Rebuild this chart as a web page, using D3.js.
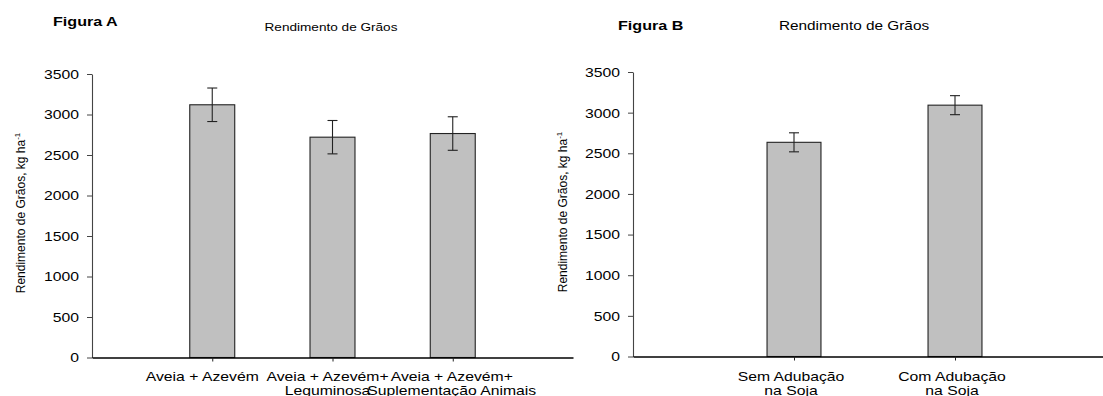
<!DOCTYPE html>
<html>
<head>
<meta charset="utf-8">
<script src="https://cdn.jsdelivr.net/npm/d3@7/dist/d3.min.js"></script>
<style>
  html, body { margin: 0; padding: 0; background: #fff; }
  svg { display: block; font-family: "Liberation Sans", Arial, sans-serif; }
</style>
</head>
<body>
<svg id="chart" width="1103" height="396"></svg>
<script>
// ---- data ----
const categoriesA = [["Aveia + Azevém"], ["Aveia + Azevém+", "Leguminosa"], ["Aveia + Azevém+", "Suplementação Animais"]];
const valuesA = [3120, 2720, 2765];
const errorsA = [207, 206, 207];

const categoriesB = [["Sem Adubação", "na Soja"], ["Com Adubação", "na Soja"]];
const valuesB = [2635, 3092];
const errorsB = [117, 117];

const yTicks = [0, 500, 1000, 1500, 2000, 2500, 3000, 3500];
const panelLabels = ["Figura A", "Figura B"];
const chartTitle = "Rendimento de Grãos";
const yTitle = "Rendimento de Grãos, kg ha";
const yTitleSup = "-1";

// ---- drawing ----
const SX = 1.26; // horizontal stretch of the original text
const svg = d3.select("#chart");

function addText(g, x, y, str, size, anchor, weight) {
  return g.append("text")
    .attr("transform", `translate(${x},${y}) scale(${SX},1)`)
    .attr("text-anchor", anchor || "start")
    .attr("font-size", size)
    .attr("font-weight", weight || "normal")
    .attr("fill", "#000")
    .text(str);
}

function drawPanel(cfg) {
  const g = svg.append("g");
  const x = d3.scaleLinear().domain([0, cfg.cats.length + 1]).range(cfg.xRange);
  const y = d3.scaleLinear().domain([0, 3500]).range(cfg.yRange);
  const unit = x(1) - x(0);
  const bw = unit * cfg.barFrac;

  // y axis
  const ya = g.append("g")
    .attr("transform", `translate(${cfg.xRange[0]},0)`)
    .call(d3.axisLeft(y).tickValues(yTicks).tickFormat(d3.format("d"))
      .tickSize(5).tickSizeOuter(0).tickPadding(8));
  ya.select(".domain").attr("stroke", "#444").attr("stroke-width", 1.1);
  ya.selectAll(".tick line").attr("stroke", "#444");
  ya.selectAll(".tick text").attr("font-size", 12.5).attr("fill", "#000")
    .attr("font-family", "Liberation Sans, Arial, sans-serif").attr("dy", "0.35em");
  ya.selectAll(".tick text").each(function () {
    const t = d3.select(this);
    const xx = +t.attr("x");
    t.attr("x", 0).attr("transform", `translate(${xx},0) scale(${SX},1)`);
  });

  // bars
  const idx = d3.range(cfg.vals.length);
  g.selectAll("rect.bar").data(idx).join("rect")
    .attr("class", "bar")
    .attr("x", i => x(i + 1) - bw / 2)
    .attr("y", i => y(cfg.vals[i]))
    .attr("width", bw)
    .attr("height", i => y(0) - y(cfg.vals[i]))
    .attr("fill", "#c0c0c0")
    .attr("stroke", "#222")
    .attr("stroke-width", 1.1);

  // error bars
  const eg = g.selectAll("g.err").data(idx).join("g").attr("class", "err")
    .attr("stroke", "#222").attr("stroke-width", 1.1);
  eg.append("line")
    .attr("x1", i => x(i + 1)).attr("x2", i => x(i + 1))
    .attr("y1", i => y(cfg.vals[i] + cfg.errs[i])).attr("y2", i => y(cfg.vals[i] - cfg.errs[i]));
  eg.append("line")
    .attr("x1", i => x(i + 1) - 5).attr("x2", i => x(i + 1) + 5)
    .attr("y1", i => y(cfg.vals[i] + cfg.errs[i])).attr("y2", i => y(cfg.vals[i] + cfg.errs[i]));
  eg.append("line")
    .attr("x1", i => x(i + 1) - 5).attr("x2", i => x(i + 1) + 5)
    .attr("y1", i => y(cfg.vals[i] - cfg.errs[i])).attr("y2", i => y(cfg.vals[i] - cfg.errs[i]));

  // x axis
  const xa = g.append("g")
    .attr("transform", `translate(0,${y(0)})`)
    .call(d3.axisBottom(x).tickValues(idx.map(i => i + 1)).tickSize(4).tickSizeOuter(0).tickFormat(""));
  xa.select(".domain").attr("stroke", "#000").attr("stroke-width", 1.3);
  xa.selectAll(".tick line").attr("stroke", "#222");

  // category labels
  cfg.cats.forEach((lines, i) => {
    lines.forEach((ln, j) => {
      addText(g, x(i + 1) + cfg.catDx[i], cfg.catY + j * 14, ln, 12.5, "middle");
    });
  });

  // titles
  addText(g, cfg.figX, cfg.figY, cfg.fig, 12.8, "start", "bold");
  addText(g, cfg.titleX, cfg.titleY, chartTitle, cfg.titleSize, "middle");

  // y title
  const yt = g.append("text")
    .attr("transform", `translate(${cfg.yTitleX},${cfg.yTitleY}) rotate(-90)`)
    .attr("text-anchor", "middle")
    .attr("font-size", 12)
    .attr("fill", "#000");
  yt.append("tspan").text(yTitle);
  yt.append("tspan").attr("font-size", 8).attr("dy", -5).text(yTitleSup);
}

drawPanel({
  cats: categoriesA, vals: valuesA, errs: errorsA,
  xRange: [92, 573], yRange: [357.5, 74], barFrac: 0.374,
  catY: 381, catDx: [-10, -5, -1], fig: panelLabels[0], figX: 53, figY: 26,
  titleX: 331, titleY: 31, titleSize: 10.8,
  yTitleX: 25, yTitleY: 213
});

drawPanel({
  cats: categoriesB, vals: valuesB, errs: errorsB,
  xRange: [633, 1116], yRange: [356.5, 72], barFrac: 0.335,
  catY: 381, catDx: [-3, -3], fig: panelLabels[1], figX: 618, figY: 30,
  titleX: 854, titleY: 30, titleSize: 12.2,
  yTitleX: 567, yTitleY: 212
});
</script>
</body>
</html>
